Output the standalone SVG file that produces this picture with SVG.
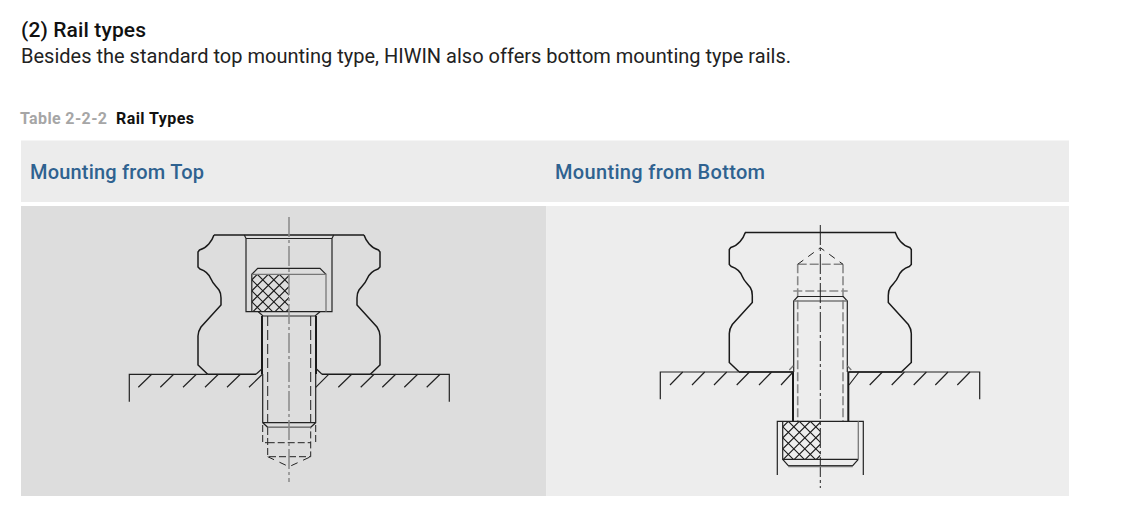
<svg xmlns="http://www.w3.org/2000/svg" width="1134" height="522" viewBox="0 0 1134 522">
<style>
.t{font-family:"Roboto","Liberation Sans",sans-serif}
.h{font-size:20px;font-weight:500;fill:#2f6290}
.l{fill:none;stroke:#222;stroke-width:1.2}
.r{fill:none;stroke:#1a1a1a;stroke-width:1.5}
.k{fill:none;stroke:#1a1a1a;stroke-width:2}
.b{fill:none;stroke:#1a1a1a;stroke-width:1.5}
.g{fill:none;stroke:#777;stroke-width:1.3}
.x{fill:none;stroke:#1a1a1a;stroke-width:1.1}
.d{fill:none;stroke:#222;stroke-width:1;stroke-dasharray:10 4}
.s{fill:none;stroke:#222;stroke-width:1;stroke-dasharray:7 3}
.n{fill:none;stroke:#222;stroke-width:1;stroke-dasharray:7 6}
.dg{fill:none;stroke:#888;stroke-width:1.6;stroke-dasharray:9 3}
.c1{fill:none;stroke:#888;stroke-width:1.5;stroke-dasharray:20 3 3 3}
.c2{fill:none;stroke:#222;stroke-width:1;stroke-dasharray:20 3 3 3}
</style>
<defs>
<clipPath id="ca"><rect x="251.800" y="274.300" width="37.200" height="37.400"/></clipPath>
<clipPath id="cb"><rect x="782.700" y="421.300" width="37.600" height="38"/></clipPath>
<path id="rail" d="M214 235C212 241 207 248 199.500 250L198 252V267L200 269C206 271 209 274 211 279C213 284 216 286 219 290C221 293 221 295 221 298V305L201 327C199 330 198 333 198 336V365L207.700 374.300M364 235C366 241 371 248 378.500 250L380 252V267L378 269C372 271 369 274 367 279C365 284 362 286 359 290C357 293 357 295 357 298V305L377 327C379 330 380 333 380 336V365L370.300 374.300"/>
</defs>
<rect width="1134" height="522" fill="#fff"/>
<g id="heading">
<text class="t" x="21" y="37" font-size="21" font-weight="500" fill="#111" textLength="125" lengthAdjust="spacing">(2) Rail types</text>
<text class="t" x="21" y="63" font-size="20" fill="#222" textLength="770" lengthAdjust="spacing">Besides the standard top mounting type, HIWIN also offers bottom mounting type rails.</text>
<text class="t" x="20" y="124" font-size="16" font-weight="700" fill="#a6a6a6" textLength="87" lengthAdjust="spacing">Table 2-2-2</text>
<text class="t" x="116" y="124" font-size="16" font-weight="700" fill="#111" textLength="78" lengthAdjust="spacing">Rail Types</text>
</g>
<g id="table">
<rect x="21" y="140.500" width="1048" height="61.500" fill="#ececec"/>
<rect x="21" y="206" width="525.500" height="290" fill="#dddddd"/>
<rect x="546.500" y="206" width="522.500" height="290" fill="#ededed"/>
<text class="t h" x="30" y="179" textLength="174" lengthAdjust="spacing">Mounting from Top</text>
<text class="t h" x="555" y="179" textLength="210" lengthAdjust="spacing">Mounting from Bottom</text>
</g>
<g id="top-mount">
<path class="x" clip-path="url(#ca)" d="M213.300 274.300l38 38M224.300 274.300l38 38M235.300 274.300l38 38M246.300 274.300l38 38M257.300 274.300l38 38M268.300 274.300l38 38M279.300 274.300l38 38M257.300 274.300l-38 38M268.300 274.300l-38 38M279.300 274.300l-38 38M290.300 274.300l-38 38M301.300 274.300l-38 38M312.300 274.300l-38 38M323.300 274.300l-38 38"/>
<use href="#rail" class="r"/>
<path class="r" d="M214 235H364"/>
<path class="l" d="M244.300 235L246 238.500H332L333.700 235M246 238.500V311.700H332V238.500"/>
<path class="l" d="M251.800 311.700V274.300L257.700 268.300H320L326 274.300"/>
<path class="g" d="M251.800 274.300H326V311.700"/>
<path class="l" d="M258.300 311.700L263 316H315L320 311.700"/>
<path class="k" d="M262 316V374M316 316V374"/>
<path class="l" d="M262.700 374V422.700L267.700 427.300H310.700L315.700 422.700V374M262.700 422.700H315.700"/>
<path class="g" d="M267.700 427.300H310.700"/>
<path class="d" d="M267.700 316V422M310.700 316V422"/>
<path class="s" d="M262.700 425V442.700H267.700M315.700 425V442.700M267.700 428V456.700H310.700V428M267.700 442.700H310.700"/>
<path class="n" d="M267.700 456.700L289 466.700L310.700 456.700"/>
<path class="c1" d="M289 217V482"/>
<path class="l" d="M129.300 401.700V374.300H207.700M370.300 374.300H449.300V401.700"/>
<path class="b" d="M207.700 374.300H256M322 374.300H370.300"/>
<path class="l" d="M256 374.300L262.700 368.300M315.700 368.300L322 374.300"/>
<path class="l" d="M138.300 387.300L151.700 374.300M160.300 387.300L173.700 374.300M183 387.300L196.400 374.300M205 387.300L218.400 374.300M227 387.300L240.400 374.300M249 387.300L262.400 374.300M315.700 387.300L328.700 374.300M338.300 387.300L351.700 374.300M360.700 387.300L374.100 374.300M382.300 387.300L395.700 374.300M404.300 387.300L417.700 374.300M426.700 387.300L440.100 374.300"/>
</g>
<g id="bottom-mount">
<path class="x" clip-path="url(#cb)" d="M744.300 421.300l38 38M755.300 421.300l38 38M766.300 421.300l38 38M777.300 421.300l38 38M788.300 421.300l38 38M799.300 421.300l38 38M810.300 421.300l38 38M788.300 421.300l-38 38M799.300 421.300l-38 38M810.300 421.300l-38 38M821.300 421.300l-38 38M832.300 421.300l-38 38M843.300 421.300l-38 38M854.300 421.300l-38 38"/>
<use href="#rail" class="r" transform="translate(531.300 -2.500)"/>
<path class="b" d="M745 232.500H896"/>
<path class="dg" d="M797.700 264.300V421M843 264.300V421M797.700 264.300H843M793.300 291H847.700"/>
<path class="n" d="M797.700 264.300L820.300 247.700L843 264.300"/>
<path class="l" d="M793.700 372V301L797.700 296.500H843.300L847.300 301V372"/>
<path class="g" d="M794 301H847"/>
<path class="k" d="M793 372V421.300M848.300 372V421.300"/>
<path class="c2" d="M820.300 225V488"/>
<path class="l" d="M660.300 399.300V372H793M848.300 372H979.700V399.300"/>
<path class="b" d="M739 372H793M848.300 372H902"/>
<path class="g" d="M789.300 370L793.300 365.700M847.300 365.700L851.300 370"/>
<path class="l" d="M670 385L682.700 372M692 385L704.700 372M714 385L726.700 372M736.700 385L749.400 372M759 385L771.700 372M781 385L793 372M849 385L859 372M869.700 385L882.400 372M891.700 385L904.400 372M913.700 385L926.400 372M935.300 385L948 372M957.300 385L970 372"/>
<path class="l" d="M777.300 475V421.300H863.300V475M782.700 421.300V459.300H858.300M782.700 459.300L788.300 465.700H852.700L858.300 459.300"/>
<path class="g" d="M858.300 421.300V459.300M788.300 466.500H852.700"/>
</g>
</svg>
